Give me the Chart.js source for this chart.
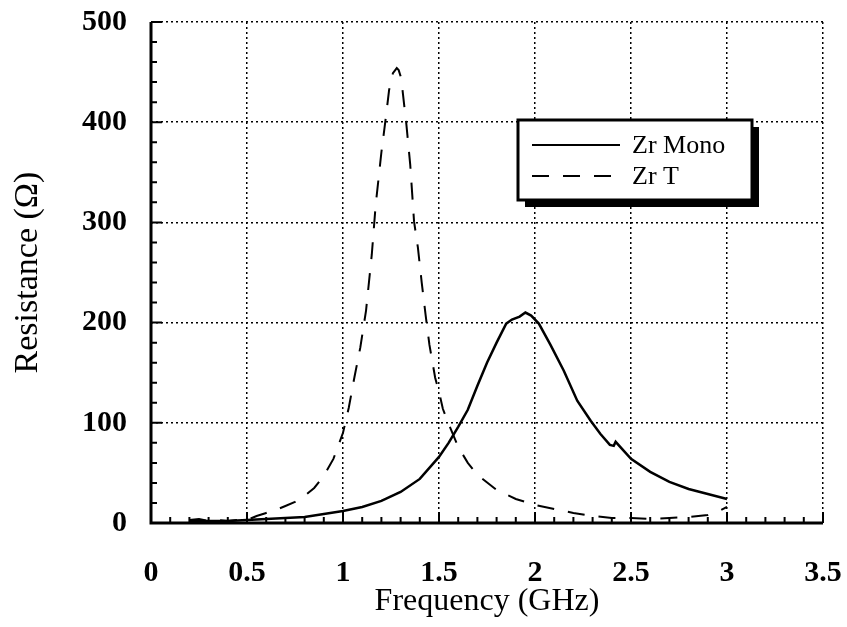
<!DOCTYPE html>
<html>
<head>
<meta charset="utf-8">
<script src="https://cdn.jsdelivr.net/npm/chart.js@4"></script>
<style>
  html, body { margin: 0; padding: 0; background: #fff; }
  #wrap { width: 847px; height: 627px; }
</style>
</head>
<body>
<div id="wrap"><canvas id="resChart" width="847" height="627"></canvas></div>
<script>
// Zr Mono (solid)
const freqMono = [0.2, 0.3, 0.4, 0.5, 0.6, 0.7, 0.8, 0.9, 1.0, 1.1, 1.2, 1.3, 1.4, 1.5, 1.55, 1.6, 1.65, 1.7, 1.75, 1.8, 1.85, 1.88, 1.92, 1.95, 1.98, 2.02, 2.08, 2.15, 2.22, 2.29, 2.34, 2.39, 2.41, 2.42, 2.5, 2.6, 2.7, 2.8, 2.9, 3.0];
const resMono = [2, 2, 2, 3, 4, 5, 6, 9, 12, 16, 22, 31, 44, 66, 80, 96, 113, 137, 160, 180, 199, 203, 206, 210, 207, 199, 178, 152, 122, 102, 89, 78, 77, 81, 64, 51, 41, 34, 29, 24];

// Zr T (dashed)
const freqT = [0.2, 0.25, 0.3, 0.35, 0.4, 0.45, 0.5, 0.55, 0.6, 0.65, 0.7, 0.75, 0.8, 0.85, 0.9, 0.95, 1.0, 1.03, 1.06, 1.09, 1.12, 1.15, 1.17, 1.2, 1.22, 1.24, 1.26, 1.28, 1.29, 1.3, 1.31, 1.33, 1.35, 1.37, 1.39, 1.41, 1.43, 1.45, 1.48, 1.5, 1.52, 1.55, 1.6, 1.65, 1.7, 1.8, 1.9, 2.0, 2.1, 2.2, 2.3, 2.4, 2.5, 2.6, 2.7, 2.8, 2.9, 2.95, 3.0];
const resT = [3, 4, 2, 3, 2, 3, 3, 7, 10, 13, 17, 21, 27, 35, 47, 64, 90, 115, 146, 175, 212, 268, 317, 370, 400, 432, 449, 454, 452, 446, 432, 398, 358, 301, 275, 240, 208, 178, 145, 131, 114, 99, 76, 60, 48, 33, 24, 18, 14, 10, 7, 5, 5, 4, 5, 6, 8, 11, 16];

const xTicks = [0, 0.5, 1, 1.5, 2, 2.5, 3, 3.5];
const yTicks = [0, 100, 200, 300, 400, 500];

const seriesNames = ['Zr Mono', 'Zr T'];

const serif = "'Liberation Serif', 'DejaVu Serif', serif";

function toPoints(xs, ys) {
  return xs.map((x, i) => ({ x: x, y: ys[i] }));
}

// axes, inward ticks and boxed legend
const framePlugin = {
  id: 'frame',
  afterDraw(chart) {
    const { ctx, chartArea: a, scales } = chart;
    const xs = scales.x, ys = scales.y;
    ctx.save();
    ctx.strokeStyle = '#000';
    ctx.lineWidth = 3;
    ctx.beginPath();
    ctx.moveTo(a.left, a.top);
    ctx.lineTo(a.left, a.bottom);
    ctx.lineTo(a.right, a.bottom);
    ctx.stroke();

    ctx.lineWidth = 2;
    ctx.beginPath();
    for (let v = 0; v <= 35; v++) {
      const px = xs.getPixelForValue(v / 10);
      const len = v % 5 === 0 ? 11 : 6;
      ctx.moveTo(px, a.bottom);
      ctx.lineTo(px, a.bottom - len);
    }
    for (let v = 0; v <= 500; v += 20) {
      const py = ys.getPixelForValue(v);
      const len = v % 100 === 0 ? 11 : 6;
      ctx.moveTo(a.left, py);
      ctx.lineTo(a.left + len, py);
    }
    ctx.stroke();

    // legend box
    const bx = 518, by = 120, bw = 234, bh = 80;
    ctx.fillStyle = '#000';
    ctx.fillRect(bx + 7, by + 7, bw, bh);
    ctx.fillStyle = '#fff';
    ctx.fillRect(bx, by, bw, bh);
    ctx.lineWidth = 3;
    ctx.strokeRect(bx, by, bw, bh);

    ctx.lineWidth = 2;
    ctx.beginPath();
    ctx.moveTo(532, 145);
    ctx.lineTo(620, 145);
    ctx.stroke();
    ctx.setLineDash([17, 14]);
    ctx.beginPath();
    ctx.moveTo(532, 176);
    ctx.lineTo(620, 176);
    ctx.stroke();
    ctx.setLineDash([]);

    ctx.fillStyle = '#000';
    ctx.font = '26px ' + serif;
    ctx.textBaseline = 'middle';
    ctx.fillText(seriesNames[0], 632, 146);
    ctx.fillText(seriesNames[1], 632, 177);
    ctx.restore();
  }
};

new Chart(document.getElementById('resChart'), {
  type: 'line',
  data: {
    datasets: [
      {
        label: seriesNames[0],
        data: toPoints(freqMono, resMono),
        borderColor: '#000',
        borderWidth: 2.5,
        pointRadius: 0,
        tension: 0,
        fill: false
      },
      {
        label: seriesNames[1],
        data: toPoints(freqT, resT),
        borderColor: '#000',
        borderWidth: 2,
        borderDash: [17, 14],
        pointRadius: 0,
        tension: 0,
        fill: false
      }
    ]
  },
  options: {
    responsive: false,
    animation: false,
    layout: { padding: { top: 22, right: 24, left: 0, bottom: 0 } },
    plugins: {
      legend: { display: false },
      tooltip: { enabled: false }
    },
    scales: {
      x: {
        type: 'linear',
        min: 0,
        max: 3.5,
        afterBuildTicks: (s) => { s.ticks = xTicks.map(v => ({ value: v })); },
        afterFit: (s) => { s.height = 104; s.paddingLeft = 0; s.paddingRight = 0; },
        ticks: {
          color: '#000',
          padding: 32,
          maxRotation: 0,
          callback: (v) => String(v),
          font: { family: serif, size: 30, weight: 'bold' }
        },
        grid: { color: '#000', lineWidth: 1.5, drawTicks: false },
        border: { display: false, dash: [2, 3] },
        title: {
          display: true,
          text: 'Frequency (GHz)',
          color: '#000',
          padding: { top: 0, bottom: 6 },
          font: { family: serif, size: 32 }
        }
      },
      y: {
        type: 'linear',
        min: 0,
        max: 500,
        afterBuildTicks: (s) => { s.ticks = yTicks.map(v => ({ value: v })); },
        afterFit: (s) => { s.width = 151; s.paddingTop = 0; s.paddingBottom = 0; },
        ticks: {
          color: '#000',
          padding: 24,
          font: { family: serif, size: 30, weight: 'bold' }
        },
        grid: { color: '#000', lineWidth: 1.5, drawTicks: false },
        border: { display: false, dash: [2, 3] },
        title: {
          display: true,
          text: 'Resistance (Ω)',
          color: '#000',
          padding: { top: 8, bottom: 0 },
          font: { family: serif, size: 34 }
        }
      }
    }
  },
  plugins: [framePlugin]
});
</script>
</body>
</html>
